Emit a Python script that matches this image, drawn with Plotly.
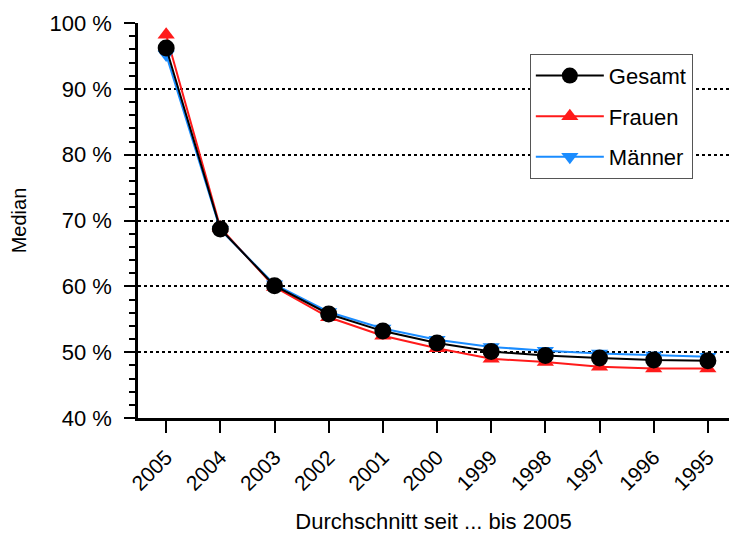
import plotly.graph_objects as go

years = ["2005", "2004", "2003", "2002", "2001", "2000", "1999", "1998", "1997", "1996", "1995"]
gesamt = [96.2, 68.7, 60.1, 55.8, 53.2, 51.4, 50.1, 49.5, 49.1, 48.8, 48.7]
frauen = [98.2, 68.9, 59.9, 55.3, 52.5, 50.6, 49.0, 48.5, 47.8, 47.5, 47.5]
maenner = [95.2, 68.6, 60.3, 56.1, 53.6, 51.9, 50.8, 50.2, 49.8, 49.5, 49.3]

FONT = "Liberation Sans, Arial, sans-serif"

fig = go.Figure()

# Women and men first, the overall median is drawn on top
fig.add_trace(go.Scatter(
    x=years, y=frauen, name="Frauen", mode="lines+markers",
    line=dict(color="#ff1a1a", width=2),
    marker=dict(symbol="triangle-up", size=15, color="#ff1a1a"),
    legendrank=2, legendgroup="f",
))
fig.add_trace(go.Scatter(
    x=years, y=maenner, name="Männer", mode="lines+markers",
    line=dict(color="#1a8cff", width=2),
    marker=dict(symbol="triangle-down", size=15, color="#1a8cff"),
    legendrank=3, legendgroup="m",
))
fig.add_trace(go.Scatter(
    x=years, y=gesamt, name="Gesamt", mode="lines+markers",
    line=dict(color="black", width=2),
    marker=dict(symbol="circle", size=17, color="black"),
    legendrank=1, legendgroup="g",
))

fig.update_layout(
    width=729, height=534,
    margin=dict(l=138, r=0, t=23, b=116),
    paper_bgcolor="white", plot_bgcolor="white",
    font=dict(family=FONT, size=21, color="black"),
    showlegend=True,
    legend=dict(
        x=0.663, y=0.922, xanchor="left", yanchor="top",
        bgcolor="white", bordercolor="#555555", borderwidth=1,
        font=dict(size=22), tracegroupgap=9,
        itemwidth=68,
    ),
    xaxis=dict(
        type="category", range=[-0.52, 10.39],
        showline=True, linecolor="black", linewidth=2.5,
        ticks="outside", ticklen=12, tickwidth=2, tickcolor="black",
        tickangle=-45, tickfont=dict(size=21), ticklabelstandoff=4,
        showgrid=False, zeroline=False,
        title=dict(text="Durchschnitt seit ... bis 2005", font=dict(size=22), standoff=20),
    ),
    yaxis=dict(
        range=[40, 100], dtick=10, ticksuffix=" %",
        showline=True, linecolor="black", linewidth=2.5,
        ticks="outside", ticklen=11, tickwidth=2, tickcolor="black",
        tickfont=dict(size=22), ticklabelstandoff=8,
        showgrid=True, gridcolor="black", gridwidth=1.5, griddash="dot",
        minor=dict(dtick=2, ticks="outside", ticklen=6, tickwidth=2,
                   tickcolor="black", showgrid=False),
        zeroline=False,
        title=dict(text="Median", font=dict(size=20), standoff=18),
    ),
)

fig.write_html("out.html")
